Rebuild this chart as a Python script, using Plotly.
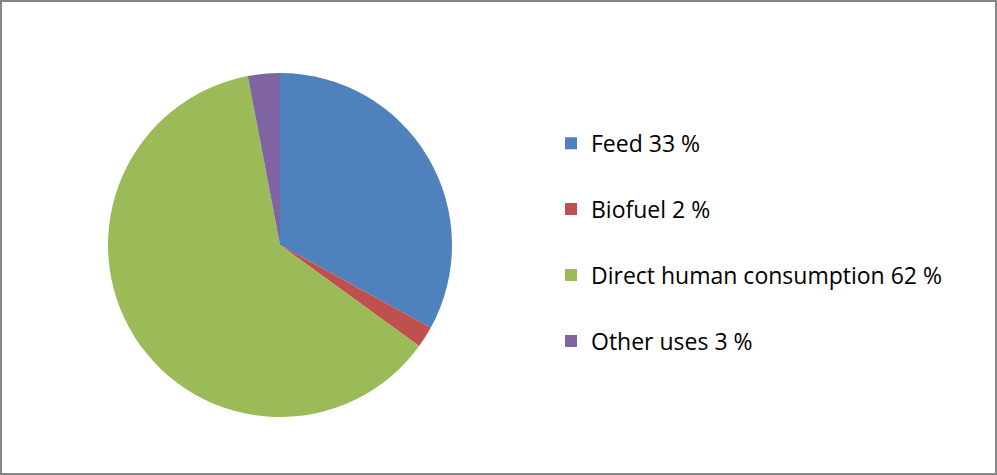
import plotly.graph_objects as go

labels = ['Feed 33 %', 'Biofuel 2 %', 'Direct human consumption 62 %', 'Other uses 3 %']
values = [33, 2, 62, 3]
colors = ['#4F81BD', '#C0504D', '#9BBB59', '#8064A2']

W, H = 997, 475

fig = go.Figure()
fig.add_trace(go.Pie(
    labels=labels, values=values, sort=False, direction='clockwise', rotation=0,
    marker=dict(colors=colors, line=dict(width=0)),
    textinfo='none', hoverinfo='label', showlegend=False,
    domain=dict(x=[108 / W, 452 / W], y=[1 - 417 / H, 1 - 73 / H]),
))

# legend entries, one group each so the gap can be set
for lab, col in zip(labels, colors):
    fig.add_trace(go.Scatter(
        x=[None], y=[None], mode='markers', name=lab, legendgroup=lab,
        marker=dict(symbol='square', size=13, color=col),
    ))

fig.update_layout(
    width=W, height=H,
    margin=dict(l=0, r=0, t=0, b=0),
    paper_bgcolor='white', plot_bgcolor='white',
    xaxis=dict(visible=False), yaxis=dict(visible=False),
    font=dict(family='Open Sans, Liberation Sans, sans-serif', size=23, color='#000'),
    legend=dict(x=551 / W, y=0.49, xanchor='left', yanchor='middle',
                tracegroupgap=33, itemsizing='constant', bgcolor='rgba(0,0,0,0)'),
    shapes=[dict(type='rect', xref='paper', yref='paper', x0=0.001, x1=0.999, y0=0.002, y1=0.998,
                 line=dict(color='#868686', width=2))],
)

fig.write_html("out.html", config={'displayModeBar': False},
               post_script="document.body.style.margin='0';")
